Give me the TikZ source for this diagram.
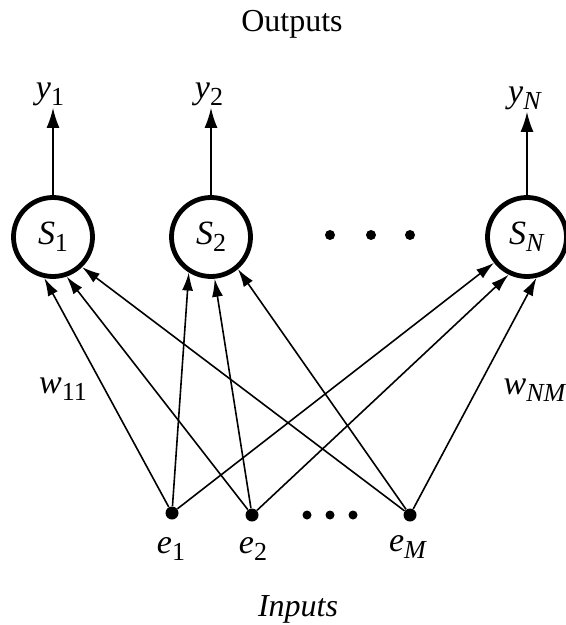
\documentclass[tikz,border=0pt]{standalone}
\usepackage{fontspec}
\setmainfont{Liberation Serif}
\usetikzlibrary{arrows.meta}
\newcommand{\lab}[2]{\textit{#1}\raisebox{-0.45ex}{\fontsize{13}{15}\selectfont#2}}

\begin{document}
\begin{tikzpicture}[
  x=0.5pt,y=-0.5pt,
  >={Latex[length=9pt,width=5.5pt]},
  unit/.style={circle,draw,line width=2.4pt,minimum size=39.5pt,inner sep=0,font=\fontsize{17}{20}\selectfont},
  inp/.style={circle,fill,inner sep=0,minimum size=6.5pt},
  dot/.style={circle,fill,inner sep=0,minimum size=5pt},
  lbl/.style={inner sep=1pt,font=\fontsize{17}{20}\selectfont},
  title/.style={font=\fontsize{16}{19}\selectfont},
  wire/.style={->,line width=0.8pt},
]
  \useasboundingbox (0,0) rectangle (566,625);
  % output units
  \node[unit] (s1) at (53,237) {\lab{S}{1}};
  \node[unit] (s2) at (211,237) {\lab{S}{2}};
  \node[unit] (sN) at (527,237) {\lab{S}{\textit{N}}};
  \foreach \x in {330,371,410} \node[dot] at (\x,235) {};
  % outputs
  \node[lbl] (y1) at (50,94) {\lab{y}{1}};
  \node[lbl] (y2) at (209,94) {\lab{y}{2}};
  \node[lbl] (yN) at (525,98) {\lab{y}{\textit{N}}};
  \foreach \s/\y in {s1/y1,s2/y2,sN/yN}
    \draw[->,line width=0.8pt,>={Latex[length=10pt,width=6.5pt]}] (\s.north) -- (\s.north |- \y.south);
  \node[title] (out) at (292,24) {Outputs};
  % inputs
  \node[inp] (e1) at (172,513) {};
  \node[inp] (e2) at (252,515) {};
  \node[inp] (eM) at (410,515) {};
  \foreach \x in {307,330,353} \node[dot,minimum size=4.5pt] at (\x,515) {};
  \node[lbl] (l1) at (171,549) {\lab{e}{1}};
  \node[lbl] (l2) at (253,549) {\lab{e}{2}};
  \node[lbl] (lM) at (408,547) {\lab{e}{\textit{M}}};
  \node[title] (in) at (298,609) {\textit{Inputs}};
  % weights
  \foreach \e/\a/\b/\c in {e1/258/238/218,e2/289/275/244,eM/314/310/283} {
    \draw[wire] (\e) -- (s1.\a);
    \draw[wire] (\e) -- (s2.\b);
    \draw[wire] (\e) -- (sN.\c);
  }
  \node[lbl] (w11) at (63,389) {\lab{w}{11}};
  \node[lbl] (wNM) at (535,390) {\lab{w}{\textit{NM}}};
\end{tikzpicture}
\end{document}
